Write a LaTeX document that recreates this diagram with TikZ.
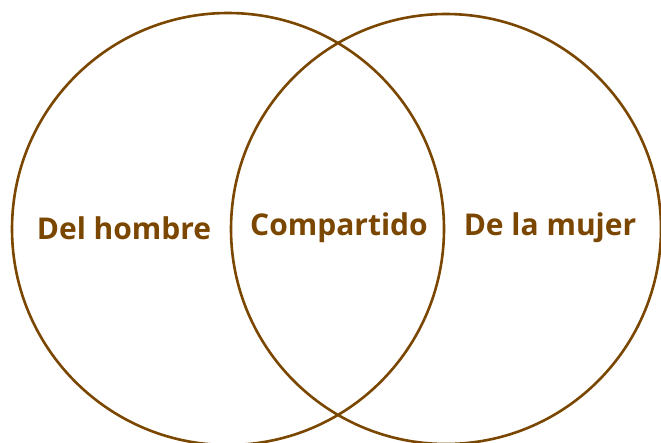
\documentclass[tikz,border=0pt]{standalone}
\usepackage{fontspec}
\setmainfont{Open Sans}
\definecolor{brownline}{HTML}{7A4600}
\begin{document}
\begin{tikzpicture}[x=1pt,y=1pt,
  ring/.style={draw=brownline,line width=2.6pt},
  lbl/.style={text=brownline,font=\fontsize{30}{36}\selectfont\bfseries,inner sep=0pt}]
\useasboundingbox (0,0) rectangle (661,-442);
\clip (0,0) rectangle (661,-442);
\node[ring,circle,minimum size=432pt,inner sep=0pt] (left) at (228,-229) {};
\node[ring,circle,minimum size=430pt,inner sep=0pt] (right) at (446,-229) {};
\node[lbl] (man) at (124,-228) {Del hombre};
\node[lbl] (shared) at (339,-228) {Compartido};
\node[lbl] (woman) at (550,-228) {De la mujer};
\end{tikzpicture}
\end{document}
